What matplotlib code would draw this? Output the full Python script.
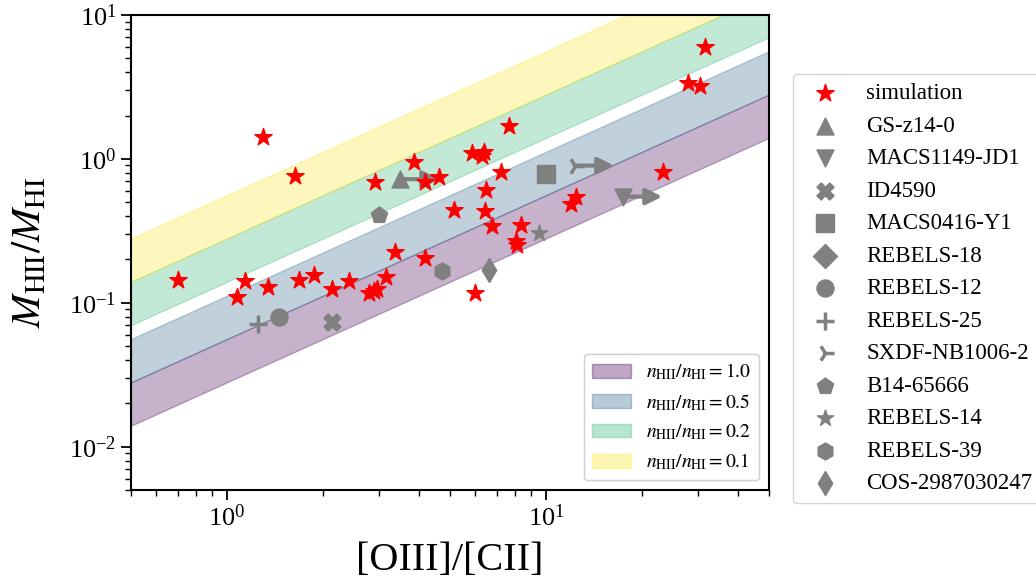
import numpy as np
import matplotlib
matplotlib.use("Agg")
import matplotlib.pyplot as plt

plt.rcParams['font.family'] = 'serif'
plt.rcParams['font.serif'] = ['Liberation Serif', 'DejaVu Serif']
plt.rcParams['mathtext.fontset'] = 'stix'

# simulation points: [OIII]/[CII] vs M_HII/M_HI
sim_x = [0.70, 1.075, 1.14, 1.30, 1.34, 1.63, 1.68, 1.88, 2.13, 2.42,
         2.78, 2.88, 2.96, 2.91, 3.14, 3.36, 3.85, 4.18, 4.16, 4.61,
         5.13, 5.86, 6.37, 6.30, 6.00, 6.43, 6.49, 6.75, 7.23, 7.68,
         8.04, 8.09, 8.34, 12.0, 12.4, 23.3, 27.9, 30.3, 31.4]
sim_y = [0.145, 0.110, 0.141, 1.43, 0.129, 0.766, 0.143, 0.156, 0.125, 0.141,
         0.117, 0.121, 0.125, 0.689, 0.152, 0.224, 0.949, 0.696, 0.204, 0.746,
         0.438, 1.095, 1.124, 1.049, 0.117, 0.431, 0.609, 0.339, 0.808, 1.68,
         0.267, 0.253, 0.346, 0.487, 0.547, 0.816, 3.36, 3.21, 5.97]

# observed galaxies
obs_names = ["GS-z14-0", "MACS1149-JD1", "ID4590", "MACS0416-Y1", "REBELS-18",
             "REBELS-12", "REBELS-25", "SXDF-NB1006-2", "B14-65666", "REBELS-14",
             "REBELS-39", "COS-2987030247"]
obs_x = [3.48, 17.4, 2.14, 9.98, np.nan, 1.45, 1.25, 12.3, 3.00, 9.53, 4.72, 6.63]
obs_y = [0.723, 0.547, 0.0741, 0.783, np.nan, 0.0796, 0.0711, 0.898, 0.408, 0.305, 0.165, 0.168]
obs_lower_limit = [True, True, False, False, False, False, False, True, False, False, False, False]
obs_markers = ['^', 'v', 'X', 's', 'D', 'o', '+', '4', 'p', '*', 'h', 'd']

# model bands
n_ratio = [1.0, 0.5, 0.2, 0.1]
band_lo = 0.028
band_hi = 0.056
band_colors = ['#440154', '#31688e', '#35b779', '#fde725']

fig = plt.figure(figsize=(10.36, 5.83), dpi=100)
ax = fig.add_axes([131/1036, 1 - 490/583, 638/1036, 475/583])

xx = np.array([0.5, 50.0])
band_handles = []
for r, c in zip(n_ratio, band_colors):
    h = ax.fill_between(xx, band_lo * xx / r, band_hi * xx / r, color=c, alpha=0.3,
                        label=r'$n_{\rm HII}/n_{\rm HI}=%.1f$' % r, zorder=1)
    band_handles.append(h)

pt_handles = []
h = ax.scatter(sim_x, sim_y, marker='*', color='red', s=170, label='simulation', zorder=4)
pt_handles.append(h)
for name, x, y, m, lim in zip(obs_names, obs_x, obs_y, obs_markers, obs_lower_limit):
    if m in ('4', '+'):
        h = ax.scatter([x], [y], marker=m, color='gray', s=170, linewidths=2.5, label=name, zorder=3)
    else:
        h = ax.scatter([x], [y], marker=m, color='gray', s=150, label=name, zorder=3)
    pt_handles.append(h)
    if lim:
        ax.annotate("", xy=(x * 1.33, y), xytext=(x, y),
                    arrowprops=dict(arrowstyle='-|>', color='gray', lw=3, mutation_scale=24,
                                    shrinkA=0, shrinkB=0), zorder=3)

ax.set_xscale('log')
ax.set_yscale('log')
ax.set_xlim(0.5, 50)
ax.set_ylim(0.005, 10)
ax.set_xlabel('[OIII]/[CII]', fontsize=29, labelpad=8)
ax.set_ylabel(r'$M_{\rm HII}/M_{\rm HI}$', fontsize=29, labelpad=14)
ax.tick_params(which='major', labelsize=19, length=7, width=1.3)
ax.tick_params(which='minor', length=4, width=1.0)
for s in ax.spines.values():
    s.set_linewidth(1.5)

leg1 = ax.legend(handles=band_handles, loc='lower right', fontsize=14)
ax.add_artist(leg1)
fig.legend(handles=pt_handles, loc='upper left', bbox_to_anchor=(793/1036, 1 - 74/583),
           borderaxespad=0, fontsize=16.5)

fig.savefig('out.png', dpi=100)
